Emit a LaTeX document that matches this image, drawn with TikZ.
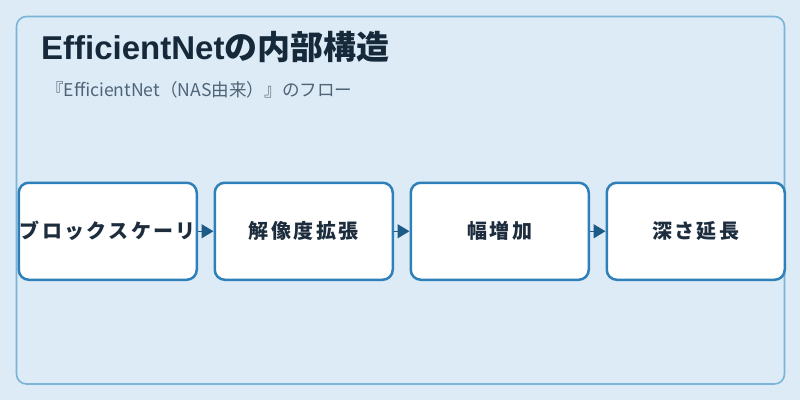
\documentclass[tikz,border=0pt]{standalone}
\usepackage{fontspec}
\setmainfont{Noto Sans CJK JP}
\newfontfamily\latinbold{Liberation Sans}[BoldFont={* Bold}]
\usetikzlibrary{arrows.meta}
\definecolor{bgc}{HTML}{DCEBF6}
\definecolor{framec}{HTML}{7BB4D8}
\definecolor{boxc}{HTML}{2F80B9}
\definecolor{arrc}{HTML}{1E5A88}
\definecolor{titlec}{HTML}{15293A}
\definecolor{subc}{HTML}{4F6477}
\definecolor{txtc}{HTML}{1D2D3D}
\tikzset{
  stepbox/.style={draw=boxc, line width=2.5pt, fill=white, rounded corners=10pt,
    minimum width=178pt, minimum height=97pt, inner sep=0pt, anchor=north west,
    text=txtc, font=\fontsize{20}{24}\selectfont\bfseries\addfontfeature{LetterSpace=12}},
  conn/.style={draw=arrc, line width=1.5pt, -{Triangle[length=12pt,width=14pt]}}
}
\begin{document}
\begin{tikzpicture}[x=1pt,y=-1pt]
\fill[bgc] (0,0) rectangle (800,400);
\useasboundingbox (0,0) rectangle (800,400);
\draw[framec, line width=1.6pt, rounded corners=10pt] (16.5,16.5) rectangle (784.5,384);
\node[anchor=base west, inner sep=0pt, text=titlec, font=\fontsize{33}{38}\selectfont\bfseries] (title) at (41,59) {{\latinbold\bfseries EfficientNet}の内部構造};
\node[anchor=base west, inner sep=0pt, text=subc, font=\fontsize{17.6}{21}\selectfont] (sub) at (46,96) {『EfficientNet（NAS由来）』のフロー};
\node[stepbox] (b1) at (17.5,181.5) {ブロックスケーリ};
\node[stepbox] (b2) at (213.5,181.5) {解像度拡張};
\node[stepbox] (b3) at (409.5,181.5) {幅増加};
\node[stepbox] (b4) at (605.5,181.5) {深さ延長};
\draw[conn] (b1.east) -- (b2.west);
\draw[conn] (b2.east) -- (b3.west);
\draw[conn] (b3.east) -- (b4.west);
\end{tikzpicture}
\end{document}
